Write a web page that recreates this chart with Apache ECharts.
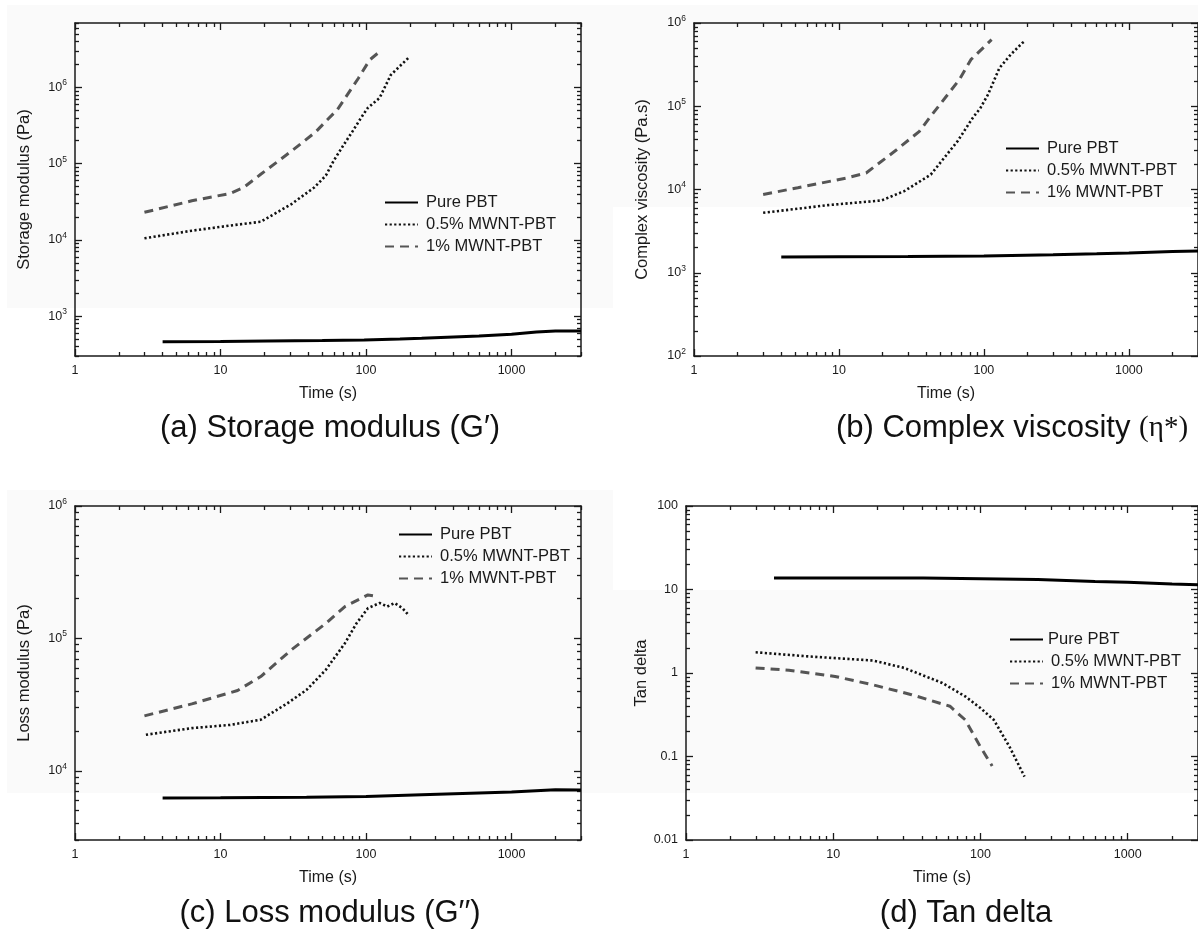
<!DOCTYPE html>
<html>
<head>
<meta charset="utf-8">
<script src="https://cdn.jsdelivr.net/npm/echarts@6/dist/echarts.min.js"></script>
<style>
  html, body { margin: 0; padding: 0; background: #ffffff; }
  #chart { width: 1198px; height: 933px; }
</style>
</head>
<body>
<div id="chart"></div>
<script>
// ---- Data: [time (s), value] ----
const seriesNames = ['Pure PBT', '0.5% MWNT-PBT', '1% MWNT-PBT'];
const timeRange = [1, 3000];
const timeTickLabels = [1, 10, 100, 1000];

// (a) Storage modulus G' (Pa)
const storagePure = [[4, 462], [10, 465], [21, 472], [50, 478], [97, 486], [171, 501], [241, 512], [400, 532], [597, 548], [1000, 577], [1482, 620], [2000, 640], [3000, 637]];
const storage05 = [[3, 1.05e4], [6.35, 1.32e4], [11.6, 1.54e4], [18.9, 1.73e4], [30.7, 2.95e4], [44, 4.86e4], [53, 7.0e4], [59.7, 1.08e5], [70, 1.75e5], [80.9, 2.67e5], [94, 4.2e5], [103, 5.4e5], [124, 7.3e5], [148, 1.46e6], [198, 2.5e6]];
const storage1 = [[3, 2.3e4], [6.35, 3.26e4], [11.6, 4.06e4], [14.4, 4.86e4], [18.9, 7.26e4], [30.7, 1.46e5], [45, 2.6e5], [53, 3.6e5], [63.5, 5.1e5], [88.6, 1.32e6], [106, 2.3e6], [124, 2.95e6]];

// (b) Complex viscosity eta* (Pa.s)
const viscPure = [[4, 1550], [10, 1555], [30, 1565], [100, 1590], [300, 1640], [600, 1690], [1000, 1730], [2000, 1800], [3000, 1830]];
const visc05 = [[3, 5250], [8.4, 6490], [19.6, 7380], [28.2, 9550], [43, 1.51e4], [65.8, 3.8e4], [83.7, 7.24e4], [94.5, 9.5e4], [106.6, 1.38e5], [128, 2.88e5], [153, 4.17e5], [184, 5.75e5], [190, 6.0e5]];
const visc1 = [[3, 8710], [5.2, 1.05e4], [11.4, 1.38e4], [15.4, 1.58e4], [25, 3.0e4], [35.9, 5.0e4], [43, 7.6e4], [67.8, 2.09e5], [81.3, 3.63e5], [113, 6.3e5]];

// (c) Loss modulus G'' (Pa)
const lossPure = [[4, 6225], [10, 6250], [39, 6300], [100, 6400], [241, 6590], [1000, 6900], [2000, 7200], [3000, 7150]];
const loss05 = [[3.07, 1.87e4], [6.35, 2.1e4], [11.6, 2.22e4], [18.9, 2.43e4], [28.9, 3.24e4], [39, 4.08e4], [53, 5.8e4], [71.6, 9.2e4], [86, 1.3e5], [103, 1.69e5], [124, 1.85e5], [140, 1.74e5], [157, 1.85e5], [178, 1.69e5], [198, 1.48e5]];
const loss1 = [[3, 2.6e4], [6.35, 3.2e4], [13.1, 4.04e4], [18.9, 5.15e4], [30.7, 8.2e4], [53, 1.3e5], [71.6, 1.74e5], [103, 2.13e5], [120, 2.07e5]];

// (d) Tan delta
const tanPure = [[3.96, 13.7], [40.8, 13.7], [245, 13.2], [600, 12.5], [1000, 12.2], [2000, 11.6], [3000, 11.4]];
const tan05 = [[2.97, 1.77], [6.8, 1.58], [18.7, 1.41], [30.3, 1.15], [55, 0.76], [78.7, 0.525], [100, 0.38], [123, 0.275], [157, 0.132], [199, 0.0575]];
const tan1 = [[2.97, 1.15], [5, 1.08], [10.3, 0.91], [18.7, 0.72], [34, 0.55], [62, 0.4], [78.7, 0.275], [100, 0.13], [120, 0.077]];

// ---- Panel layout ----
const panels = [
  { grid: { left: 75, top: 23, width: 506, height: 333 }, y: [300, 7e6], yFormat: 'pow',
    yName: 'Storage modulus (Pa)', yNameGap: 42, data: [storagePure, storage05, storage1],
    legend: { left: 384, top: 194 }, tightFirst: false },
  { grid: { left: 694, top: 23, width: 504, height: 333 }, y: [100, 1e6], yFormat: 'pow',
    yName: 'Complex viscosity (Pa.s)', yNameGap: 43, data: [viscPure, visc05, visc1],
    legend: { left: 1005, top: 140 }, tightFirst: false },
  { grid: { left: 75, top: 506, width: 506, height: 334 }, y: [3000, 1e6], yFormat: 'pow',
    yName: 'Loss modulus (Pa)', yNameGap: 42, data: [lossPure, loss05, loss1],
    legend: { left: 398, top: 526 }, tightFirst: false },
  { grid: { left: 686, top: 506, width: 512, height: 334 }, y: [0.01, 100], yFormat: 'dec',
    yName: 'Tan delta', yNameGap: 36, data: [tanPure, tan05, tan1],
    legend: { left: 1009, top: 631 }, tightFirst: true }
];

const titles = [
  { text: '(a) Storage modulus (G\u2032)', x: 330, y: 428 },
  { text: '(b) Complex viscosity {g|(\u03b7*)}', x: 1012, y: 428 },
  { text: '(c) Loss modulus (G\u2032\u2032)', x: 330, y: 913 },
  { text: '(d) Tan delta', x: 966, y: 913 }
];

// faint grey paper tone behind the upper and lower panel rows: [x, y, w, h]
const paperTone = [
  [7, 5, 1191, 202], [7, 207, 606, 101],
  [7, 490, 606, 303], [613, 590, 585, 203], [598, 490, 15, 100]
];

// ---- Styling ----
const FONT = 'Liberation Sans, Arial, Helvetica, sans-serif';
const INK = '#1a1a1a';
const lineStyles = [
  { color: '#000000', width: 3, type: 'solid' },
  { color: '#111111', width: 2.6, type: [2.2, 2.4] },
  { color: '#555555', width: 3, type: [9, 6] }
];

// tick positions 1..9 x 10^n inside a range
function decadeValues(min, max) {
  const out = [];
  for (let e = Math.floor(Math.log10(min)); e <= Math.ceil(Math.log10(max)); e++) {
    for (let k = 1; k <= 9; k++) {
      const v = k * Math.pow(10, e);
      if (v >= min * 0.9999 && v <= max * 1.0001) out.push(v);
    }
  }
  return out;
}
function isPow10(v) {
  return Math.abs(Math.log10(v) - Math.round(Math.log10(v))) < 1e-9;
}
const majorOf = range => decadeValues(range[0], range[1]).filter(isPow10);
const minorOf = range => decadeValues(range[0], range[1]).filter(v => !isPow10(v));

const axisLineStyle = { color: INK, width: 1.5 };
const tickLineStyle = { color: INK, width: 1.3 };

function makeAxis(gridIndex, range, position, ticks, tickLen, showLine, label) {
  return {
    type: 'log', logBase: 10, gridIndex: gridIndex,
    min: range[0], max: range[1], position: position,
    axisLine: { show: showLine, onZero: false, lineStyle: axisLineStyle },
    axisTick: { show: true, inside: true, length: tickLen, customValues: ticks, lineStyle: tickLineStyle },
    axisLabel: label || { show: false },
    splitLine: { show: false },
    minorTick: { show: false },
    axisPointer: { show: false }
  };
}

function powLabel(v) {
  return '10{s|' + Math.round(Math.log10(v)) + '}';
}
function decLabel(v) {
  const e = Math.round(Math.log10(v));
  return e >= 0 ? String(Math.pow(10, e)) : Math.pow(10, e).toFixed(-e);
}

const xAxes = [], yAxes = [], grids = [], legends = [], series = [];

panels.forEach((p, i) => {
  grids.push(Object.assign({ containLabel: false }, p.grid));

  const xMajor = majorOf(timeRange), xMinor = minorOf(timeRange);
  const yMajor = majorOf(p.y), yMinor = minorOf(p.y);

  // bottom axis carries labels and name; the series are bound to it
  const xb = makeAxis(i, timeRange, 'bottom', xMajor, 7, true, {
    show: true, customValues: timeTickLabels, margin: 8,
    fontSize: 12.5, fontFamily: FONT, color: INK,
    formatter: v => String(Math.round(v))
  });
  xb.name = 'Time (s)';
  xb.nameLocation = 'middle';
  xb.nameGap = 30;
  xb.nameMoveOverlap = false;
  xb.nameTextStyle = { fontSize: 16, fontFamily: FONT, color: INK };
  xAxes.push(xb);
  xAxes.push(makeAxis(i, timeRange, 'bottom', xMinor, 4, false));
  xAxes.push(makeAxis(i, timeRange, 'top', xMajor, 7, true));
  xAxes.push(makeAxis(i, timeRange, 'top', xMinor, 4, false));

  const yLabel = {
    show: true, customValues: yMajor, margin: 8,
    fontSize: 12.5, fontFamily: FONT, color: INK,
    formatter: p.yFormat === 'pow' ? powLabel : decLabel
  };
  if (p.yFormat === 'pow') {
    yLabel.lineHeight = 18;
    yLabel.rich = { s: { fontSize: 8.5, lineHeight: 8, verticalAlign: 'top', fontFamily: FONT, color: INK } };
  }
  const yl = makeAxis(i, p.y, 'left', yMajor, 7, true, yLabel);
  yl.name = p.yName;
  yl.nameLocation = 'middle';
  yl.nameGap = p.yNameGap;
  yl.nameMoveOverlap = false;
  yl.nameTextStyle = { fontSize: 16.5, fontFamily: FONT, color: INK };
  yAxes.push(yl);
  yAxes.push(makeAxis(i, p.y, 'left', yMinor, 4, false));
  yAxes.push(makeAxis(i, p.y, 'right', yMajor, 7, true));
  yAxes.push(makeAxis(i, p.y, 'right', yMinor, 4, false));

  p.data.forEach((d, k) => {
    series.push({
      type: 'line', name: seriesNames[k],
      xAxisIndex: i * 4, yAxisIndex: i * 4,
      data: d, symbol: 'none', smooth: false,
      lineStyle: lineStyles[k], itemStyle: { color: lineStyles[k].color },
      emphasis: { disabled: true }, z: 3 - k
    });
  });

  legends.push({
    orient: 'vertical', left: p.legend.left, top: p.legend.top, padding: 0,
    itemWidth: 33, itemHeight: 14, itemGap: 5, selectedMode: false,
    // line-only keys: the marker drawn on the key line is made invisible
    itemStyle: { color: 'rgba(0,0,0,0)', borderColor: 'rgba(0,0,0,0)', borderWidth: 0 },
    data: seriesNames.map((n, k) => ({
      name: n,
      textStyle: { padding: [0, 0, 0, (p.tightFirst && k === 0) ? 0 : 3] }
    })),
    textStyle: { fontSize: 16.5, lineHeight: 14, fontFamily: FONT, color: INK }
  });
});

const graphics = paperTone.map(r => ({
  type: 'rect', silent: true, z: -100,
  shape: { x: r[0], y: r[1], width: r[2], height: r[3] },
  style: { fill: '#fafafa' }
})).concat(titles.map(t => ({
  type: 'text', x: t.x, y: t.y, silent: true,
  style: {
    text: t.text, align: 'center', verticalAlign: 'middle',
    fontSize: 31, fontFamily: FONT, fill: '#111111',
    rich: { g: { fontSize: 29, fontFamily: 'Liberation Serif, DejaVu Serif, serif', fill: '#111111' } }
  }
})));

const option = {
  animation: false,
  backgroundColor: '#ffffff',
  grid: grids,
  xAxis: xAxes,
  yAxis: yAxes,
  legend: legends,
  series: series,
  graphic: graphics
};

const chart = echarts.init(document.getElementById('chart'), null, { renderer: 'canvas' });
chart.setOption(option);
</script>
</body>
</html>
